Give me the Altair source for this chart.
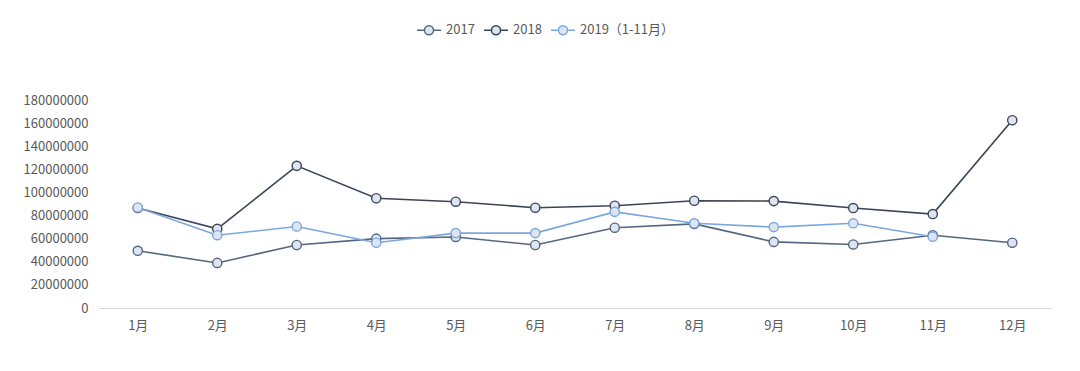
import altair as alt
import pandas as pd

months = ["1月", "2月", "3月", "4月", "5月", "6月", "7月", "8月", "9月", "10月", "11月", "12月"]
series_names = ["2017", "2018", "2019（1-11月）"]
v2017 = [49500000, 39000000, 54500000, 60000000, 61500000, 54500000, 69500000, 72800000, 57200000, 55000000, 63000000, 56500000]
v2018 = [86500000, 68500000, 123000000, 95000000, 92000000, 86800000, 88500000, 92800000, 92500000, 86500000, 81300000, 162500000]
v2019 = [87000000, 63000000, 70500000, 56500000, 64800000, 64800000, 83200000, 73300000, 70000000, 73300000, 61700000]
colors = ["#56667f", "#3a4556", "#7aa7e0"]
y_ticks = [0, 20000000, 40000000, 60000000, 80000000, 100000000, 120000000, 140000000, 160000000, 180000000]

rows = []
for name, vals in zip(series_names, [v2017, v2018, v2019]):
    for m, v in zip(months, vals):
        rows.append({"month": m, "series": name, "value": v})
df = pd.DataFrame(rows)

font = "Noto Sans CJK SC"

x = alt.X("month:N", sort=months, scale=alt.Scale(type="point", padding=0.5),
          axis=alt.Axis(title=None, labelAngle=0, ticks=False, domainColor="#d9d9d9",
                        labelColor="#595959", labelFontSize=13, labelPadding=11, labelFont=font))
y = alt.Y("value:Q", scale=alt.Scale(domain=[0, 180000000], nice=False),
          axis=alt.Axis(title=None, values=y_ticks, format="d", grid=False, domain=False, ticks=False,
                        labelColor="#595959", labelFontSize=13, labelPadding=10, labelFont=font))
color = alt.Color("series:N", sort=series_names,
                  scale=alt.Scale(domain=series_names, range=colors),
                  legend=alt.Legend(title=None, orient="none", direction="horizontal",
                                    legendX=318, legendY=-83,
                                    symbolType="M-1,0H-0.38M0.38,0H1M0.38,0A0.38,0.38 0 1,1 -0.38,0A0.38,0.38 0 1,1 0.38,0",
                                    symbolSize=576, symbolStrokeWidth=1.5,
                                    symbolFillColor="#dde5f1", symbolOpacity=1,
                                    labelFont=font, labelFontSize=13, labelColor="#595959",
                                    columnPadding=6, labelOffset=4))

lines = alt.Chart(df).mark_line(strokeWidth=1.6).encode(x=x, y=y, color=color, detail="series:N")
points = alt.Chart(df).mark_point(filled=False, fill="#dde5f1", fillOpacity=1, size=85,
                                  strokeWidth=1.4, opacity=1).encode(x=x, y=y, color=color)

chart = alt.layer(lines, points).properties(
    width=954, height=208,
    autosize=alt.AutoSizeParams(type="none"),
    padding={"left": 90, "top": 92, "right": 20, "bottom": 40},
).configure_view(stroke=None)

chart.save("out.html", embed_options={"renderer": "svg", "actions": False})
